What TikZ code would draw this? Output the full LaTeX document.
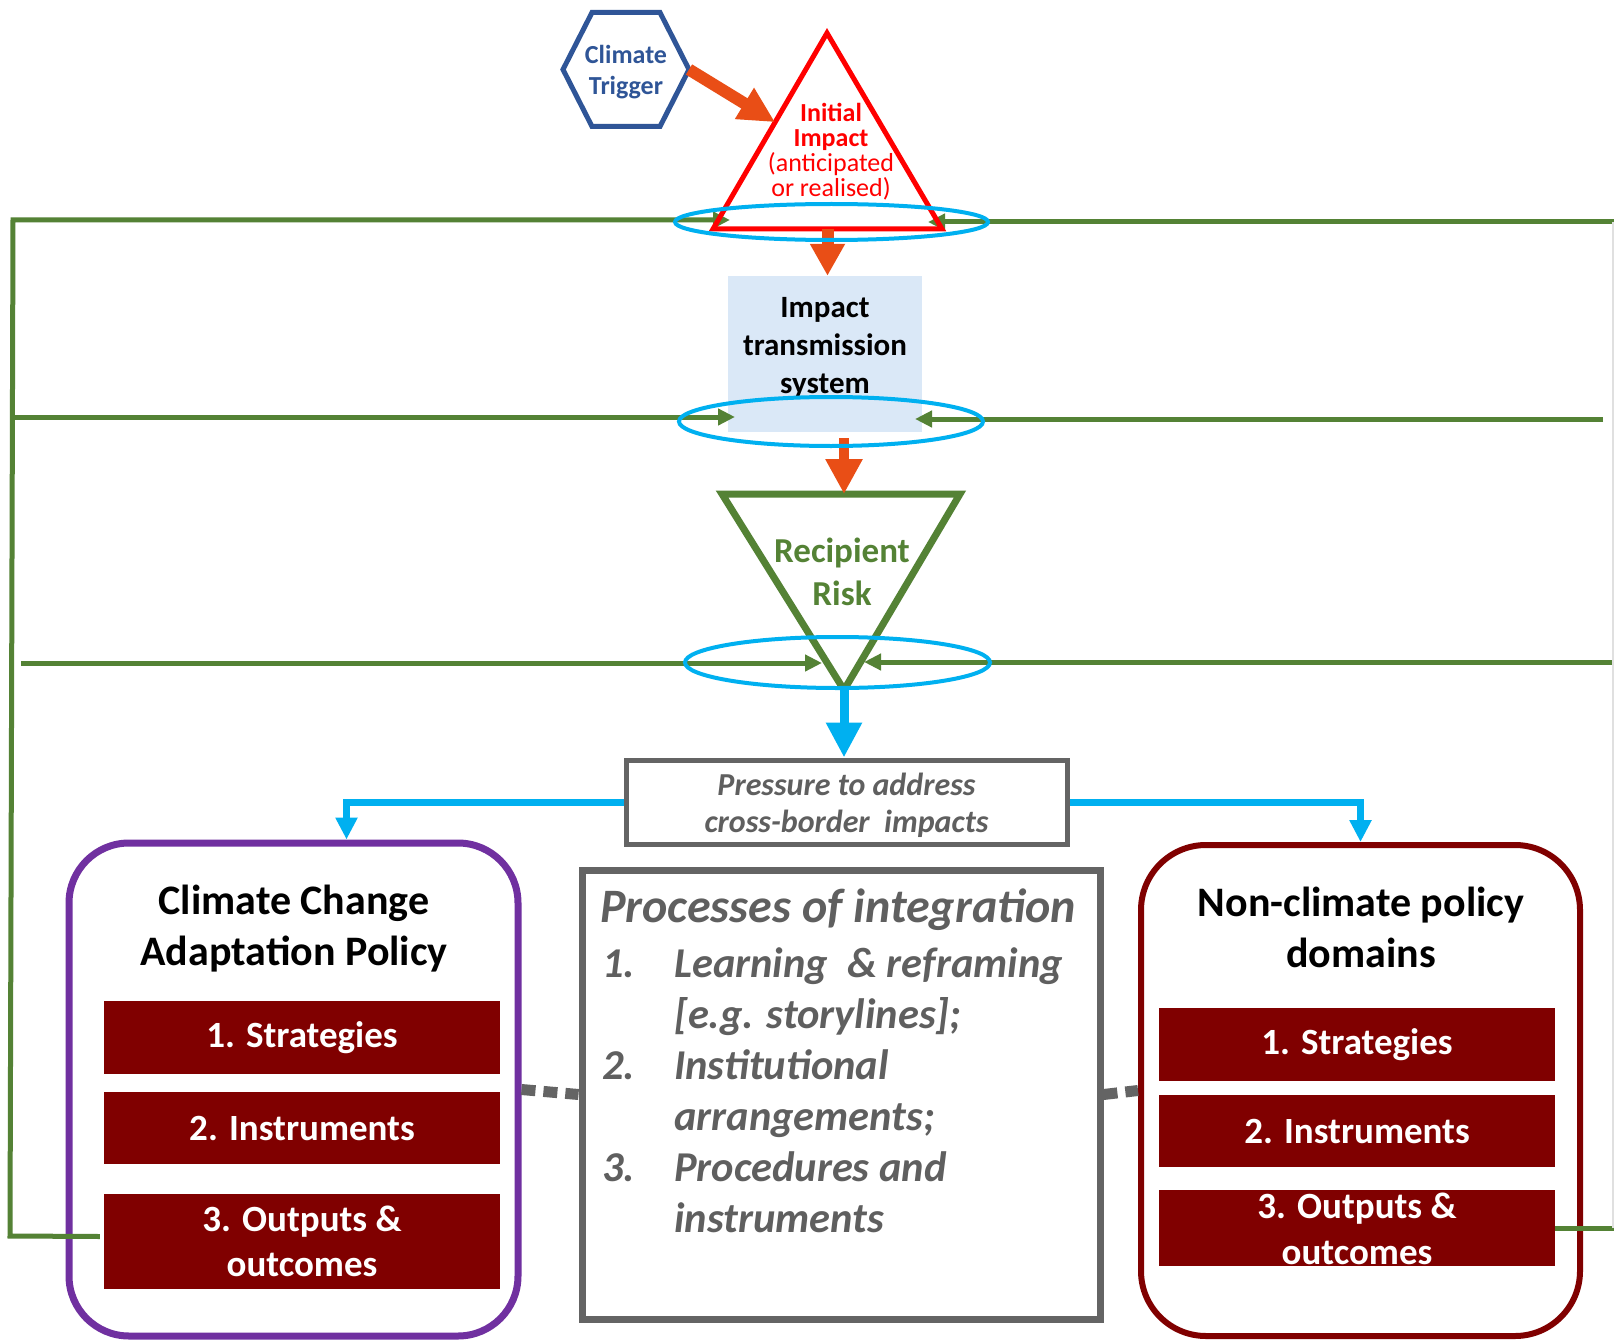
\documentclass[tikz,border=0pt]{standalone}
\usepackage{fontspec}
\setmainfont{Carlito}
\usetikzlibrary{arrows.meta,shapes.geometric,calc}
\definecolor{hexblue}{RGB}{47,85,151}
\definecolor{orng}{RGB}{233,78,22}
\definecolor{rred}{RGB}{255,0,0}
\definecolor{grn}{RGB}{84,130,53}
\definecolor{cyn}{RGB}{0,176,240}
\definecolor{lblue}{RGB}{218,232,247}
\definecolor{gtxt}{RGB}{95,95,95}
\definecolor{gbord}{RGB}{100,100,100}
\definecolor{mrn}{RGB}{128,0,0}
\definecolor{purp}{RGB}{112,48,160}
\newcommand\myfs[2]{\fontsize{#1}{#2}\selectfont}
\begin{document}
\begin{tikzpicture}[x=1pt,y=-1pt,
  txt/.style={inner sep=0pt, align=center},
  grnline/.style={draw=grn, line width=5pt},
  grnarr/.style={grnline, -{Triangle[length=17pt,width=16pt]}},
  ellip/.style={draw=cyn, line width=4pt},
  orarrA/.style={draw=orng, line width=12pt, -{Triangle[length=36pt,width=34pt]}},
  orarrB/.style={draw=orng, line width=12pt, -{Triangle[length=32pt,width=33pt]}},
  orarrC/.style={draw=orng, line width=10pt, -{Triangle[length=35pt,width=35pt]}},
  bluemain/.style={draw=cyn, line width=9pt, -{Triangle[length=35pt,width=34pt]}},
  bluebr/.style={draw=cyn, line width=7pt, -{Triangle[length=22pt,width=21pt]}},
  mbox/.style={fill=mrn, inner sep=0pt, minimum width=396pt, text=white, align=center, font=\bfseries\myfs{37}{45}},
  mtxt/.style={text=white, inner sep=0pt, align=center, font=\bfseries\myfs{37}{46}},
  dotc/.style={draw=gbord, line width=11pt, dash pattern=on 14pt off 8pt},
  ptxt/.style={inner sep=0pt, anchor=base west, text=gtxt, font=\bfseries\itshape\myfs{42.5}{51}}
]
\fill[white] (0,0) rectangle (1614,1340);
\useasboundingbox (0,0) rectangle (1614,1340);

% ---------- coordinates ----------
\coordinate (itA) at (827,33);
\coordinate (itL) at (713,229);
\coordinate (itR) at (942,229);
\coordinate (itB) at ($(itL)!0.5!(itR)$);
\coordinate (itIn) at ($(itA)!0.455!(itL)$);
\coordinate (rrL) at (722,494);
\coordinate (rrR) at (960,494);
\coordinate (rrB) at (844,690);
\coordinate (rrT) at (844,494);
\coordinate (gA) at (13,220);
\coordinate (gB) at (10,1236);
\coordinate (g1L) at (730,220);
\coordinate (g1E) at (1614,222);
\coordinate (g1R) at (928,222);
\coordinate (g2S) at (11,417);
\coordinate (g2L) at (735,417);
\coordinate (g2E) at (1603,419);
\coordinate (g2R) at (915,419);
\coordinate (g3S) at (21,663);
\coordinate (g3L) at (822,663);
\coordinate (g3E) at (1614,662);
\coordinate (g3R) at (864,662);
\coordinate (g4E) at (1614,1228);
\coordinate (rvT) at (1613,222);
\coordinate (rvB) at (1613,1228);
\coordinate (hex) at (626,69.5);
\coordinate (hexE) at ($(hex)+(63,0)$);

% ---------- transmission box ----------
\node[fill=lblue, minimum width=194pt, minimum height=156pt, inner sep=0pt] (its) at (825,354) {};

% ---------- lower boxes ----------
\node[draw=purp, line width=7pt, rounded corners=60pt, minimum width=449pt, minimum height=493pt, inner sep=0pt] (cca) at (293.5,1089.5) {};
\node[draw=mrn, line width=6pt, rounded corners=65pt, minimum width=439pt, minimum height=491pt, inner sep=0pt] (ncp) at (1360.5,1090.5) {};
\node[draw=gbord, line width=7pt, minimum width=518pt, minimum height=449pt, inner sep=0pt] (proc) at (841,1094.5) {};

\node[txt, font=\bfseries\myfs{42}{51}] (ccaT) at (294,928.5) {Climate Change\\Adaptation Policy};
\node[mbox, minimum height=73pt] (ccaS) at (302,1037.5) {1. Strategies};
\node[mbox, minimum height=72pt] (ccaI) at (302,1128) {2. Instruments};
\node[mbox, minimum height=95pt] (ccaO) at (302,1241.5) {3. Outputs \&\\outcomes};

\node[txt, font=\bfseries\myfs{42}{51}] (ncpT) at (1361,927.5) {Non-climate policy\\domains};
\node[mbox, minimum height=73pt] (ncpS) at (1357,1044.5) {1. Strategies};
\node[mbox, minimum height=72pt] (ncpI) at (1357,1131) {2. Instruments};
\node[mbox, minimum height=76pt] (ncpO) at (1357,1228) {};
\node[mtxt] (ncpOt) at (1357,1229) {3. Outputs \&\\outcomes};

\node[inner sep=0pt, anchor=base west, text=gtxt, font=\bfseries\itshape\myfs{48}{55}] (procT) at (600,922) {Processes of integration};
\node[ptxt] (p1n) at (602,977) {1.};
\node[ptxt] (p1a) at (674,977) {Learning\ \ \& reframing};
\node[ptxt] (p1b) at (674,1028) {[e.g. storylines];};
\node[ptxt] (p2n) at (602,1079) {2.};
\node[ptxt] (p2a) at (674,1079) {Institutional};
\node[ptxt] (p2b) at (674,1130) {arrangements;};
\node[ptxt] (p3n) at (602,1181) {3.};
\node[ptxt] (p3a) at (674,1181) {Procedures and};
\node[ptxt] (p3b) at (674,1232) {instruments};

\draw[dotc] (cca.east) -- (proc.west);
\draw[dotc] (proc.east) -- (ncp.west);

% ---------- pressure box ----------
\node[draw=gbord, line width=5pt, minimum width=441pt, minimum height=84pt, inner sep=0pt] (press) at (846.5,802) {};
\node[txt, text=gtxt, font=\bfseries\itshape\myfs{32}{37}] (pressT) at (846.5,805) {Pressure to address\\cross-border\ \ impacts};

% ---------- green feedback lines ----------
\draw[grnarr] ($(ccaO.west)+(-4,-5)$) -- (gB) -- (gA) -- (g1L);
\draw[grnarr] (g1E) -- (g1R);
\draw[grnarr] (g2S) -- (g2L);
\draw[grnarr] (g2E) -- (g2R);
\draw[grnarr] (g3S) -- (g3L);
\draw[grnarr] (g3E) -- (g3R);
\draw[grnline] (ncpO.east) -- (g4E);
\draw[draw=black!12, line width=1.5pt] (rvT) -- (rvB);

% ---------- hexagon ----------
\draw[draw=hexblue, line width=5pt, line join=miter] (hexE) -- ($(hex)+(34,-57)$) -- ($(hex)+(-34,-57)$) -- ($(hex)+(-63,0)$) -- ($(hex)+(-34,57)$) -- ($(hex)+(34,57)$) -- cycle;
\node[txt, text=hexblue, font=\bfseries\myfs{26}{31}] (hexT) at (626,72.5) {Climate\\Trigger};

% ---------- triangles ----------
\draw[draw=rred, line width=5pt, line join=miter] (itA) -- (itL) -- (itR) -- cycle;
\node[txt, text=rred, font=\myfs{26}{25}] (itT) at (831,152) {\textbf{Initial}\\\textbf{Impact}\\(anticipated\\or realised)};
\draw[draw=grn, line width=7pt, line join=miter] (rrL) -- (rrR) -- (rrB) -- cycle;
\node[txt, text=grn, font=\bfseries\myfs{35}{43}] (rrTx) at (842,571.5) {Recipient\\Risk};

\node[txt, font=\bfseries\myfs{31}{38}] (itsT) at (825,348) {Impact\\transmission\\system};

% ---------- arrows ----------
\draw[orarrA] (hexE) -- (itIn);
\draw[orarrB] (itB) -- (itB |- its.north);
\draw[orarrC] ($(rrT |- its.south)+(0,6)$) -- (rrT);
\draw[bluemain] (rrB) -- (rrB |- press.north);
\draw[bluebr] (press.west) -| ($(cca.north)+(53,0)$);
\draw[bluebr] (press.east) -| (ncp.north);

% ---------- ellipses ----------
\draw[ellip] (831.5,222) ellipse [x radius=156.5pt, y radius=18pt];
\draw[ellip] (831,421.5) ellipse [x radius=152pt, y radius=24.5pt];
\draw[ellip] (837.5,662.5) ellipse [x radius=152.5pt, y radius=25.5pt];
\end{tikzpicture}
\end{document}
